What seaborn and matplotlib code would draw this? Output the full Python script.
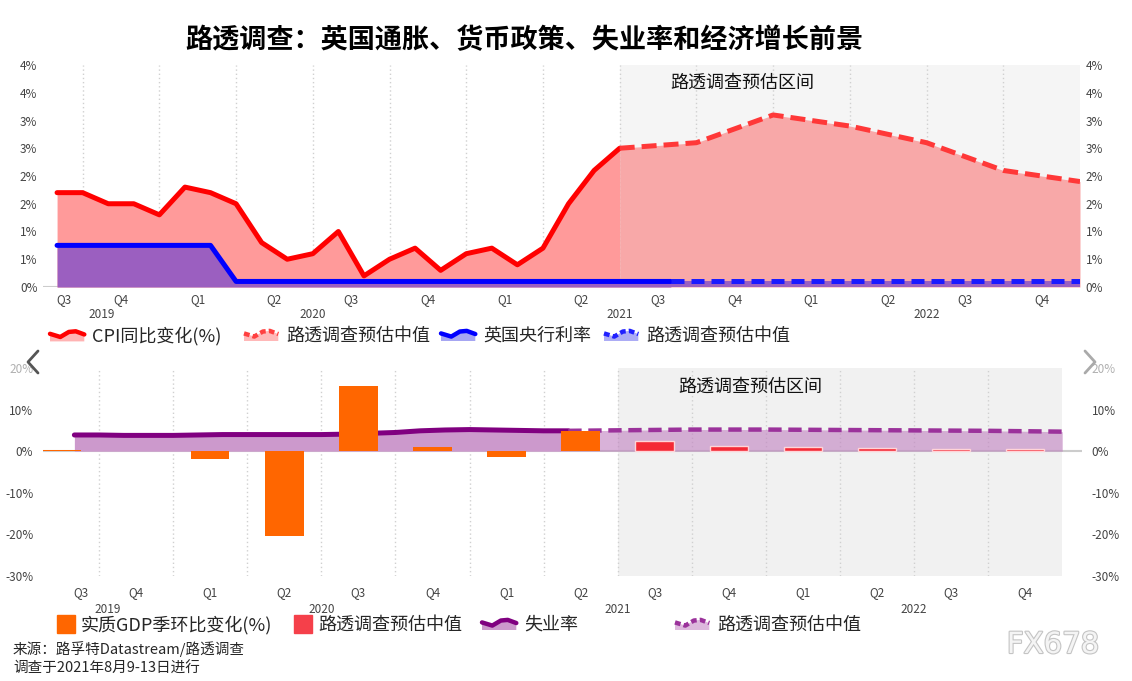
import numpy as np
import pandas as pd
import matplotlib
matplotlib.use('Agg')
import matplotlib.pyplot as plt
import matplotlib.patheffects as pe
import seaborn as sns
from matplotlib.lines import Line2D
from matplotlib.patches import Polygon
from matplotlib.legend_handler import HandlerBase
from matplotlib.transforms import blended_transform_factory

# ---- data ----
# CPI yoy %, monthly, actual
cpi_months = pd.period_range('2019-08', '2021-06', freq='M')
cpi = [1.7, 1.7, 1.5, 1.5, 1.3, 1.8, 1.7, 1.5, 0.8, 0.5, 0.6, 1.0,
       0.2, 0.5, 0.7, 0.3, 0.6, 0.7, 0.4, 0.7, 1.5, 2.1, 2.5]
# Reuters poll median, quarter ends
cpi_fc_months = ['2021-06', '2021-09', '2021-12', '2022-03', '2022-06', '2022-09', '2022-12']
cpi_fc = [2.5, 2.6, 3.1, 2.9, 2.6, 2.1, 1.9]

# Bank Rate %
rate_months = pd.period_range('2019-08', '2021-08', freq='M')
rate = [0.75, 0.75, 0.75, 0.75, 0.75, 0.75, 0.75,
        0.1, 0.1, 0.1, 0.1, 0.1, 0.1, 0.1, 0.1, 0.1, 0.1, 0.1, 0.1,
        0.1, 0.1, 0.1, 0.1, 0.1, 0.1]
rate_fc_months = ['2021-08', '2021-09', '2021-12', '2022-03', '2022-06', '2022-09', '2022-12']
rate_fc = [0.1, 0.1, 0.1, 0.1, 0.1, 0.1, 0.1]

# GDP qoq %
quarters = ['2019Q3', '2019Q4', '2020Q1', '2020Q2', '2020Q3', '2020Q4', '2021Q1',
            '2021Q2', '2021Q3', '2021Q4', '2022Q1', '2022Q2', '2022Q3', '2022Q4']
gdp_quarters = quarters[:8]
gdp = [0.3, 0.0, -1.9, -20.5, 15.7, 1.0, -1.5, 4.8]
gdp_fc_quarters = quarters[8:]
gdp_fc = [2.5, 1.3, 0.9, 0.7, 0.6, 0.6]

# unemployment rate %
unemp_months = pd.period_range('2019-08', '2021-04', freq='M')
unemp = [3.9, 3.9, 3.8, 3.8, 3.8, 3.9, 4.0, 4.0, 4.0, 4.0, 4.0, 4.1,
         4.3, 4.5, 4.9, 5.1, 5.2, 5.1, 5.0, 4.9, 4.9]
unemp_fc_months = ['2021-04', '2021-09', '2021-12', '2022-03', '2022-06', '2022-09', '2022-12']
unemp_fc = [4.9, 5.2, 5.2, 5.1, 5.0, 4.9, 4.7]

years = ['2019', '2020', '2021', '2022']

W, H = 1132, 681

sns.set_theme(style='white')
plt.rcParams['font.family'] = ['Noto Sans CJK SC', 'DejaVu Sans']
plt.rcParams['axes.unicode_minus'] = False


def month_pos(months):
    p = pd.PeriodIndex(months, freq='M')
    return np.asarray((p.year - 2019) * 12 + p.month - 6, dtype=float)


def quarter_pos(qs):
    q = pd.PeriodIndex(qs, freq='Q')
    return np.asarray((q.year - 2019) * 12 + q.quarter * 3 - 7.5, dtype=float)


def dashed(ax, pattern):
    ln = ax.get_lines()[-1]
    ln.set_linestyle((0, pattern))
    ln.set_dash_capstyle('butt')


def frame(ax, xmin, xmax, shade, qpad, year_y):
    ax.axvspan(24, 42, color=shade, lw=0, zorder=0)
    for m in range(3, 42, 3):
        ax.axvline(m, color='#D0D0D0', lw=1, ls=(0, (1, 2)), zorder=0.5)
    ax.axhline(0, color='#CCCCCC', lw=1.5, zorder=0.6)
    ax.set_xlim(xmin, xmax)
    qx = quarter_pos(quarters)
    qx[0] = 2.25
    ax.set_xticks(qx)
    ax.set_xticklabels([q[-2:] for q in quarters])
    ax.tick_params(axis='x', bottom=False, length=0, pad=qpad, labelsize=8.5, labelcolor='#444444')
    ax.tick_params(axis='y', left=False, right=False, length=0, labelleft=True, labelright=True,
                   labelsize=8.5, labelcolor='#444444')
    for s in ax.spines.values():
        s.set_visible(False)
    ax.set_xlabel('')
    ax.set_ylabel('')
    tr = blended_transform_factory(ax.transData, ax.transAxes)
    for i, y in enumerate(years):
        lo = max(i * 12 - 6, xmin)
        hi = min(i * 12 + 6, 42)
        ax.text((lo + hi) / 2, year_y, y, transform=tr, ha='center', va='center',
                fontsize=8.5, color='#444444')


fig = plt.figure(figsize=(W / 100, H / 100), dpi=100)

# ---------- top: CPI & Bank Rate ----------
ax1 = fig.add_axes([43 / W, 1 - 287 / H, 1037 / W, 222 / H])
x_cpi, x_cpi_fc = month_pos(cpi_months), month_pos(cpi_fc_months)
x_rate, x_rate_fc = month_pos(rate_months), month_pos(rate_fc_months)

ax1.fill_between(x_cpi, 0, cpi, color='#FF9A9A', lw=0, zorder=1)
ax1.fill_between(x_cpi_fc, 0, cpi_fc, color='#F8A8A8', lw=0, zorder=1)
ax1.fill_between(x_rate, 0, rate, color='#9B5FC0', lw=0, zorder=2)
ax1.fill_between(x_rate_fc, 0, rate_fc, color='#9B5FC0', lw=0, zorder=2)

sns.lineplot(x=x_rate, y=rate, ax=ax1, color='#0000FF', lw=3.6, zorder=4)
sns.lineplot(x=x_rate_fc, y=rate_fc, ax=ax1, color='#1A1AFF', lw=3.6, zorder=4)
dashed(ax1, (2.6, 1.4))
sns.lineplot(x=x_cpi, y=cpi, ax=ax1, color='#FF0000', lw=3.6, zorder=5)
sns.lineplot(x=x_cpi_fc, y=cpi_fc, ax=ax1, color='#FF3838', lw=3.6, zorder=5)
dashed(ax1, (3, 1.4))

frame(ax1, 1.45, 42, '#F5F5F5', 4, -0.125)
ax1.set_ylim(0, 4)
yt = np.arange(0, 4.01, 0.5)
ax1.set_yticks(yt)
ax1.set_yticklabels([f'{int(v + 0.5)}%' for v in yt])
ax1.tick_params(axis='y', pad=4)
ax1.text(28.8, 0.92, '路透调查预估区间', transform=blended_transform_factory(ax1.transData, ax1.transAxes),
         ha='center', va='center', fontsize=13, color='#111111')

# ---------- bottom: GDP & unemployment ----------
ax2 = fig.add_axes([43 / W, 1 - 576 / H, 1039 / W, 208 / H])
x_u, x_u_fc = month_pos(unemp_months), month_pos(unemp_fc_months)
ax2.fill_between(x_u, 0, unemp, color='#CC99CC', lw=0, zorder=1)
ax2.fill_between(x_u_fc, 0, unemp_fc, color='#C080C0', alpha=0.6, lw=0, zorder=1)
sns.lineplot(x=x_u, y=unemp, ax=ax2, color='#800080', lw=3.6, zorder=3)
sns.lineplot(x=x_u_fc, y=unemp_fc, ax=ax2, color='#9B329B', lw=3.2, zorder=3)
dashed(ax2, (3, 1.5))

ax2.bar(quarter_pos(gdp_quarters), gdp, width=1.56, color='#FF6600',
        edgecolor='none', zorder=4)
ax2.bar(quarter_pos(gdp_fc_quarters), gdp_fc, width=1.56, color='#F42A36',
        edgecolor='#FFD4D8', lw=1, zorder=4)

frame(ax2, 0.73, 42.8, '#F1F1F1', 7, -0.16)
ax2.set_ylim(-30, 20)
yt2 = [-30, -20, -10, 0, 10, 20]
ax2.set_yticks(yt2)
ax2.set_yticklabels([f'{v}%' for v in yt2])
ax2.tick_params(axis='y', pad=7)
for t in ax2.get_yticklabels():
    if t.get_text() == '20%':
        t.set_color('#B0B0B0')
ax2.text(29.35, 0.91, '路透调查预估区间', transform=blended_transform_factory(ax2.transData, ax2.transAxes),
         ha='center', va='center', fontsize=13, color='#111111')


# ---------- legends ----------
class AreaIcon(HandlerBase):
    def __init__(self, line, fill, dash=False):
        super().__init__()
        self.line, self.fill, self.dash = line, fill, dash

    def create_artists(self, legend, orig_handle, xdescent, ydescent, width, height, fontsize, trans):
        xs = np.array([0.0, 0.3, 0.55, 0.75, 1.0]) * width - xdescent
        ys = np.array([0.6, 0.35, 0.75, 0.8, 0.55]) * height - ydescent
        poly = Polygon(np.column_stack([np.r_[xs, xs[-1], xs[0]], np.r_[ys, -ydescent, -ydescent]]),
                       closed=True, facecolor=self.fill, edgecolor='none', transform=trans)
        ln = Line2D(xs, ys, color=self.line, lw=3.2, transform=trans)
        if self.dash:
            ln.set_linestyle((0, (1.3, 0.7)))
        return [poly, ln]


def add_entry(x, y, label, handler=None, square=None):
    if square is not None:
        h = Line2D([], [], marker='s', ms=13, color=square, ls='none')
        hmap, hl, tp = {}, 1.2, 0.25
    else:
        h = Line2D([], [])
        hmap, hl, tp = {h: handler}, 1.9, 0.45
    fig.legend([h], [label], loc='center left', bbox_to_anchor=(x / W, 1 - y / H),
               frameon=False, fontsize=13, handlelength=hl, handletextpad=tp,
               borderpad=0, borderaxespad=0, handler_map=hmap)


add_entry(50, 336, 'CPI同比变化(%)', AreaIcon('#FF0000', '#FFB3B3'))
add_entry(244, 336, '路透调查预估中值', AreaIcon('#FF4040', '#FFB8B8', True))
add_entry(441, 336, '英国央行利率', AreaIcon('#0000FF', '#A6A6F2'))
add_entry(604, 336, '路透调查预估中值', AreaIcon('#2020FF', '#ACACF5', True))

add_entry(55, 625, '实质GDP季环比变化(%)', square='#FF6600')
add_entry(292, 625, '路透调查预估中值', square='#F5404A')
add_entry(482, 625, '失业率', AreaIcon('#800080', '#CC99CC'))
add_entry(675, 625, '路透调查预估中值', AreaIcon('#9B329B', '#DDB8DD', True))

# ---------- texts ----------
fig.text(185 / W, 1 - 40 / H, '路透调查：英国通胀、货币政策、失业率和经济增长前景',
         fontsize=19.5, fontweight='bold', va='center', ha='left', color='#000000')
fig.text(13 / W, 1 - 649 / H, '来源：路孚特Datastream/路透调查', fontsize=10.5, va='center')
fig.text(13 / W, 1 - 669 / H, '调查于2021年8月9-13日进行', fontsize=10.5, va='center')
fig.text(1053 / W, 1 - 645 / H, 'FX678', ha='center', va='center', fontsize=21,
         family='DejaVu Sans', color='#F4F4F4',
         path_effects=[pe.withStroke(linewidth=1.6, foreground='#C4C4C4')])

# navigation chevrons
fig.add_artist(Line2D([38 / W, 28 / W, 38 / W], [1 - 351 / H, 1 - 362 / H, 1 - 373 / H],
                      transform=fig.transFigure, color='#555555', lw=2))
fig.add_artist(Line2D([1085 / W, 1095 / W, 1085 / W], [1 - 351 / H, 1 - 362 / H, 1 - 373 / H],
                      transform=fig.transFigure, color='#AAAAAA', lw=2))

fig.savefig('out.png', dpi=100)
